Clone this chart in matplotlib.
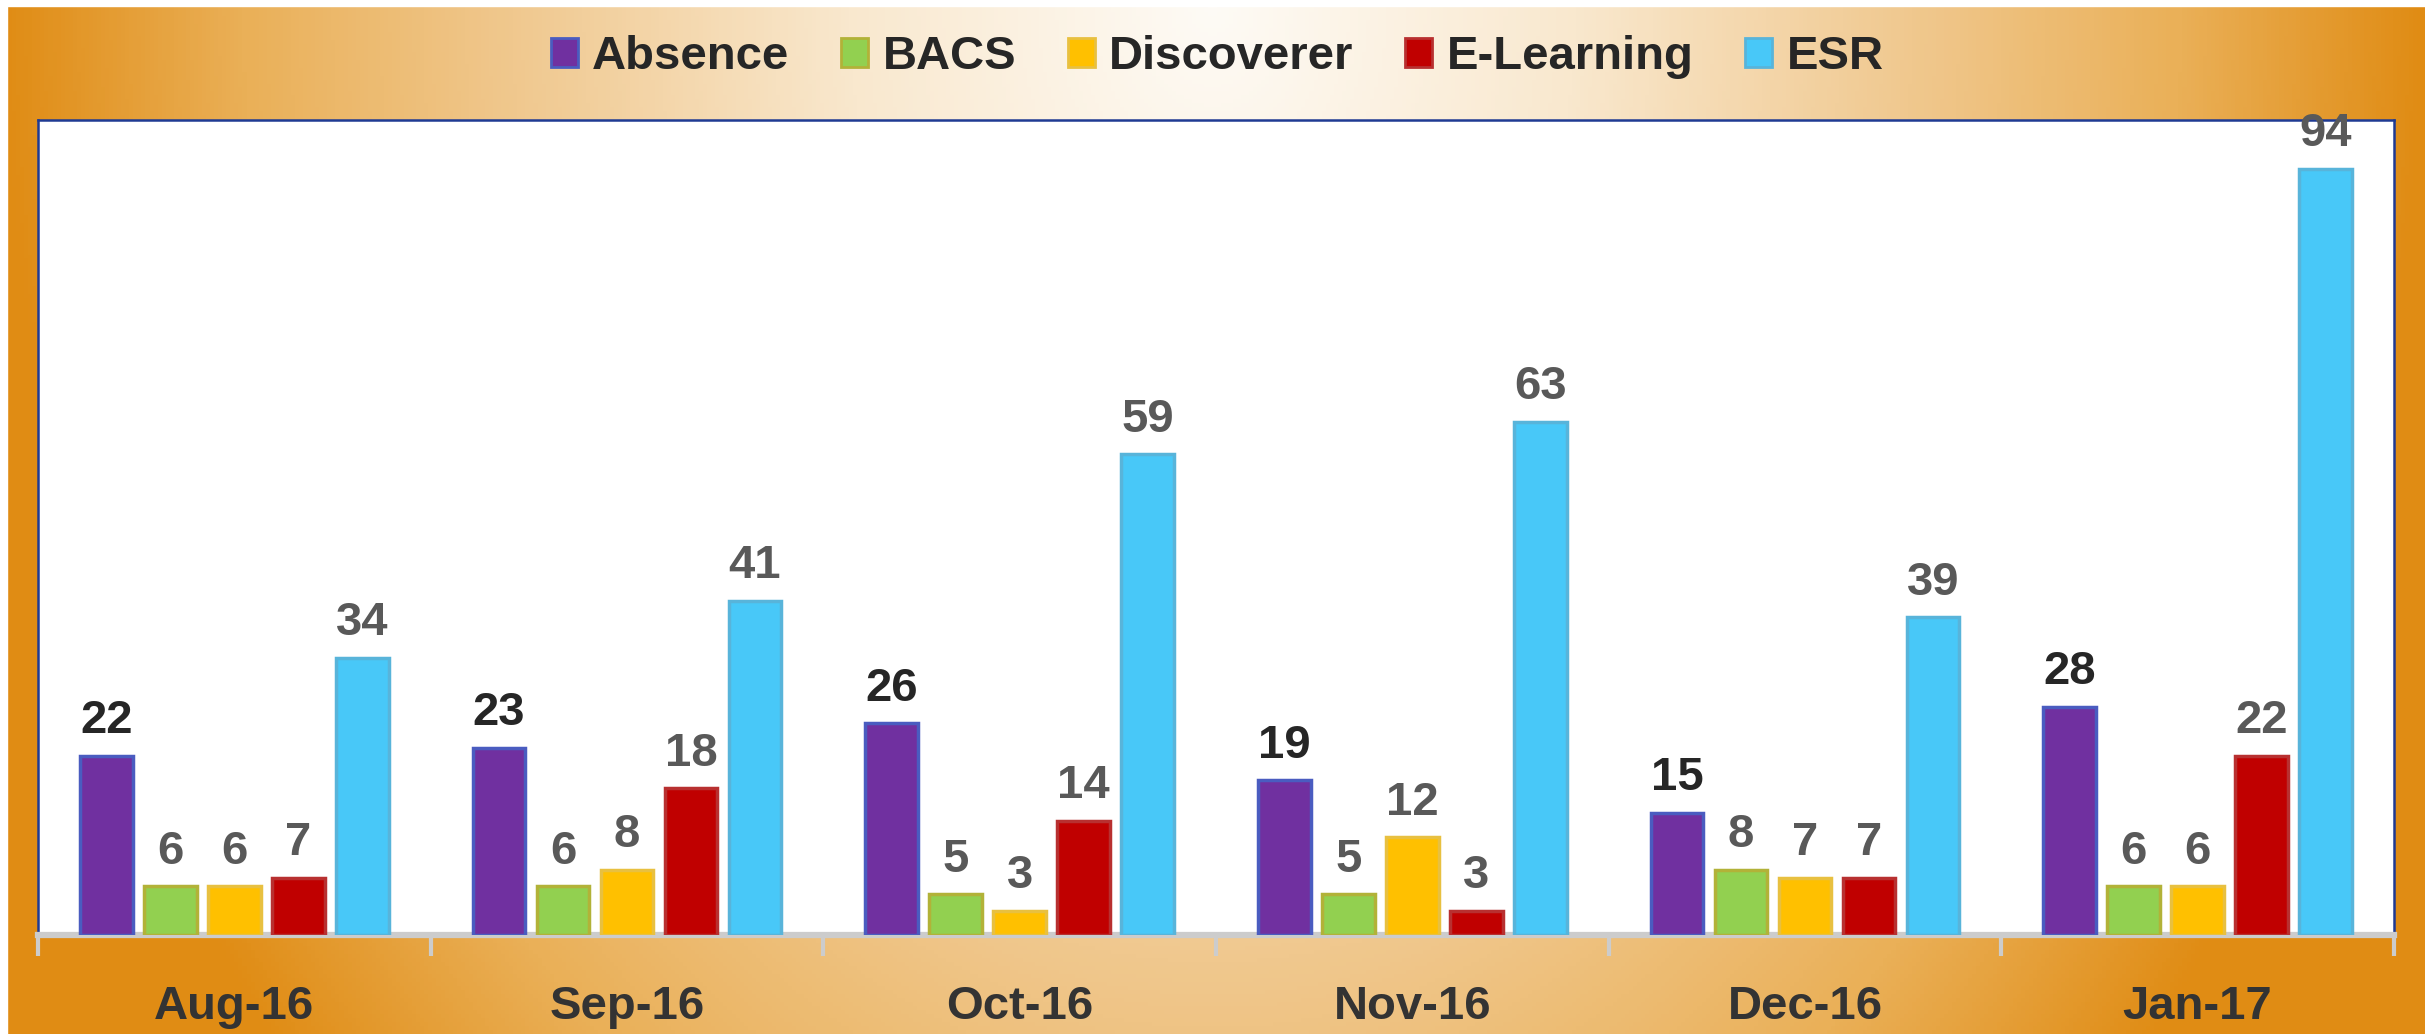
import numpy as np
import matplotlib.pyplot as plt
from matplotlib.patches import Patch
from matplotlib.colors import LinearSegmentedColormap

plt.rcParams['font.family'] = ['Liberation Sans', 'DejaVu Sans']

months = ['Aug-16', 'Sep-16', 'Oct-16', 'Nov-16', 'Dec-16', 'Jan-17']
series = ['Absence', 'BACS', 'Discoverer', 'E-Learning', 'ESR']
absence = [22, 23, 26, 19, 15, 28]
bacs = [6, 6, 5, 5, 8, 6]
discoverer = [6, 8, 3, 12, 7, 6]
elearning = [7, 18, 14, 3, 7, 22]
esr = [34, 41, 59, 63, 39, 94]
values = [absence, bacs, discoverer, elearning, esr]

face = ['#7030A0', '#92D050', '#FFC000', '#C00000', '#48C8F8']
edge = ['#4A5CC0', '#B2B238', '#E8C040', '#B83030', '#58B4DA']
label_col = ['#262626', '#595959', '#595959', '#595959', '#595959']

fig = plt.figure(figsize=(24.25, 10.34), dpi=100)

# radial-ish background: pale at top centre, orange towards the sides
bg = fig.add_axes([0, 0, 1, 1], zorder=-1)
cmap = LinearSegmentedColormap.from_list('bg', [
    (0.0, '#FEFBF6'), (0.3, '#F9E8CE'), (0.58, '#F0C88E'),
    (0.8, '#EAB058'), (1.0, '#E08C14')])
u = np.abs(np.linspace(-1, 1, 600))[None, :]
v = np.linspace(0, 1, 260)[:, None]
t = np.clip(np.sqrt(u ** 2 + (0.62 * v) ** 2), 0, 1)
bg.imshow(t, aspect='auto', cmap=cmap, extent=[0, 1, 0, 1], origin='upper',
          vmin=0, vmax=1)
bg.set_xlim(0, 1)
bg.set_ylim(0, 1)
bg.axvspan(0, 0.003, color='white')
bg.axhspan(0.994, 1, color='white')
bg.axis('off')

ax = fig.add_axes([0.0157, 0.0957, 0.9715, 0.7883])
ax.set_facecolor('white')

x = np.arange(len(months))
width = 0.134
step = 0.163
for i, vals in enumerate(values):
    pos = x + (i - 2) * step
    bars = ax.bar(pos, vals, width, color=face[i], edgecolor=edge[i],
                  linewidth=2.5, zorder=3)
    for b, v in zip(bars, vals):
        ax.annotate(str(v), (b.get_x() + b.get_width() / 2, v),
                    xytext=(0, 9), textcoords='offset points',
                    ha='center', va='bottom', fontsize=34,
                    fontweight='bold', color=label_col[i])

ax.set_xlim(-0.5, len(months) - 0.5)
ax.set_ylim(0, 100)
ax.set_yticks([])

ax.set_xticks(np.arange(-0.5, len(months)), labels=[''] * (len(months) + 1))
ax.tick_params(axis='x', which='major', length=15, width=3, color='#CCCCCC',
               direction='out')
ax.set_xticks(x, labels=months, minor=True)
ax.tick_params(axis='x', which='minor', length=0, pad=36, labelsize=34,
               labelcolor='#333333')
for t in ax.get_xticklabels(minor=True):
    t.set_fontweight('bold')

for s in ['top', 'left', 'right']:
    ax.spines[s].set_color('#1F3A93')
    ax.spines[s].set_linewidth(1.8)
ax.spines['bottom'].set_color('#CCCCCC')
ax.spines['bottom'].set_linewidth(4.5)

handles = [Patch(facecolor=face[i], edgecolor=edge[i], linewidth=2)
           for i in range(len(series))]
fig.legend(handles, series, loc='center', bbox_to_anchor=(0.502, 0.945),
           ncol=5, frameon=False, handlelength=0.57, handleheight=0.57,
           handletextpad=0.3, columnspacing=1.1,
           prop={'size': 34, 'weight': 'bold'}, labelcolor='#262626')

fig.savefig('out.png', dpi=100)
